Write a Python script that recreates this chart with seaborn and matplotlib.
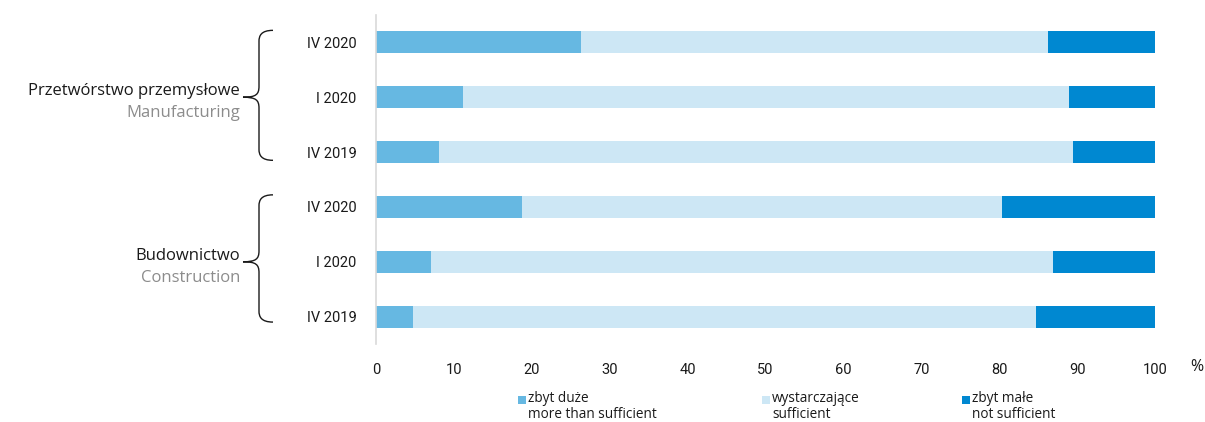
import numpy as np
import pandas as pd
import matplotlib
matplotlib.use("Agg")
import matplotlib.pyplot as plt
from matplotlib.path import Path
from matplotlib.patches import PathPatch, Rectangle
import matplotlib.transforms as mtransforms
import seaborn as sns

# ---- data ----
groups = ["Przetwórstwo przemysłowe", "Budownictwo"]
groups_en = ["Manufacturing", "Construction"]
periods = ["IV 2020", "I 2020", "IV 2019", "IV 2020", "I 2020", "IV 2019"]
more_than_sufficient = [26.3, 11.2, 8.1, 18.7, 7.1, 4.7]
sufficient = [60.0, 77.8, 81.4, 61.7, 79.8, 80.0]
not_sufficient = [13.7, 11.0, 10.5, 19.6, 13.1, 15.3]
legend_labels = ["zbyt duże\nmore than sufficient",
                 "wystarczające\nsufficient",
                 "zbyt małe\nnot sufficient"]
xticks = [0, 10, 20, 30, 40, 50, 60, 70, 80, 90, 100]

colors = ["#66b8e2", "#cde7f5", "#0088d1"]

sns.set_theme(style="white")
plt.rcParams["font.family"] = ["Roboto", "DejaVu Sans"]
WIDE = ["Open Sans", "DejaVu Sans"]

rows = [f"r{i}" for i in range(len(periods))]
df = pd.DataFrame({
    "row": rows,
    "c1": more_than_sufficient,
    "c2": np.array(more_than_sufficient) + np.array(sufficient),
    "c3": np.array(more_than_sufficient) + np.array(sufficient) + np.array(not_sufficient),
})

fig = plt.figure(figsize=(12.05, 4.22), dpi=100)
ax = fig.add_axes([376 / 1205, 1 - 344 / 422, (1155 - 376) / 1205, (344 - 15) / 422])

for col, c in zip(["c3", "c2", "c1"], [colors[2], colors[1], colors[0]]):
    sns.barplot(data=df, y="row", x=col, order=rows, orient="h", color=c,
                width=0.4, ax=ax, saturation=1, linewidth=0)

ax.set_xlim(0, 100)
ax.set_ylim(5.5, -0.5)
ax.set_xticks(xticks)
ax.set_xticklabels([str(t) for t in xticks], fontsize=10.5, color="#1a1a1a")
ax.set_yticks(range(len(periods)))
ax.set_yticklabels(periods, fontsize=10.5, color="#1a1a1a")
ax.tick_params(axis="x", length=0, pad=14)
ax.tick_params(axis="y", length=0, pad=14)
ax.set_xlabel("")
ax.set_ylabel("")
for s in ["top", "right", "bottom"]:
    ax.spines[s].set_visible(False)
ax.spines["left"].set_color("#d9d9d9")
ax.spines["left"].set_linewidth(1.2)

fig.text(1197 / 1205, 1 - 367 / 422, "%", ha="center", va="center",
         fontsize=11.5, color="#1a1a1a", family=WIDE)

# braces: x in figure pixels, y in data
tr = mtransforms.blended_transform_factory(
    mtransforms.Affine2D().scale(1 / 1205, 1) + fig.transFigure, ax.transData)
tr_lab = mtransforms.blended_transform_factory(fig.transFigure, ax.transData)


def brace(y0, y1, ym):
    xo, xi, xt = 273, 259, 243
    d = 0.1
    verts = [(xo, y0), (xi + 2, y0), (xi, y0 + d), (xi, y0 + 2 * d),
             (xi, ym - 2 * d),
             (xi, ym - d * 0.5), (xi - 3, ym), (xt, ym),
             (xi - 3, ym), (xi, ym + d * 0.5), (xi, ym + 2 * d),
             (xi, y1 - 2 * d),
             (xi, y1 - d), (xi + 2, y1), (xo, y1)]
    codes = [Path.MOVETO, Path.CURVE4, Path.CURVE4, Path.CURVE4,
             Path.LINETO,
             Path.CURVE4, Path.CURVE4, Path.CURVE4,
             Path.CURVE4, Path.CURVE4, Path.CURVE4,
             Path.LINETO,
             Path.CURVE4, Path.CURVE4, Path.CURVE4]
    p = PathPatch(Path(verts, codes), transform=tr, fill=False,
                  edgecolor="#1a1a1a", linewidth=1.0, clip_on=False)
    fig.patches.append(p)


brace(-0.22, 2.15, 1.0)
brace(2.78, 5.1, 4.0)

for gi, (g, ge) in enumerate(zip(groups, groups_en)):
    yc = 1.0 + 3 * gi
    ax.text(240 / 1205, yc - 0.11, g, transform=tr_lab, family=WIDE,
            ha="right", va="center", fontsize=12, color="#1a1a1a", clip_on=False)
    ax.text(240 / 1205, yc + 0.29, ge, transform=tr_lab, family=WIDE,
            ha="right", va="center", fontsize=12, color="#8c8c8c", clip_on=False)

# legend
leg_x = [518, 762, 962]
for lx, lab, c in zip(leg_x, legend_labels, colors):
    fig.patches.append(Rectangle((lx / 1205, 1 - 404 / 422), 8 / 1205, 8 / 422,
                                 transform=fig.transFigure, facecolor=c,
                                 edgecolor="none"))
    l1, l2 = lab.split("\n")
    fig.text((lx + 10) / 1205, 1 - 399 / 422, l1, ha="left", va="center",
             fontsize=9.8, color="#1a1a1a", family=WIDE)
    fig.text((lx + 10) / 1205, 1 - 415 / 422, l2, ha="left", va="center",
             fontsize=9.8, color="#1a1a1a", family=WIDE)

fig.savefig("out.png", dpi=100)
